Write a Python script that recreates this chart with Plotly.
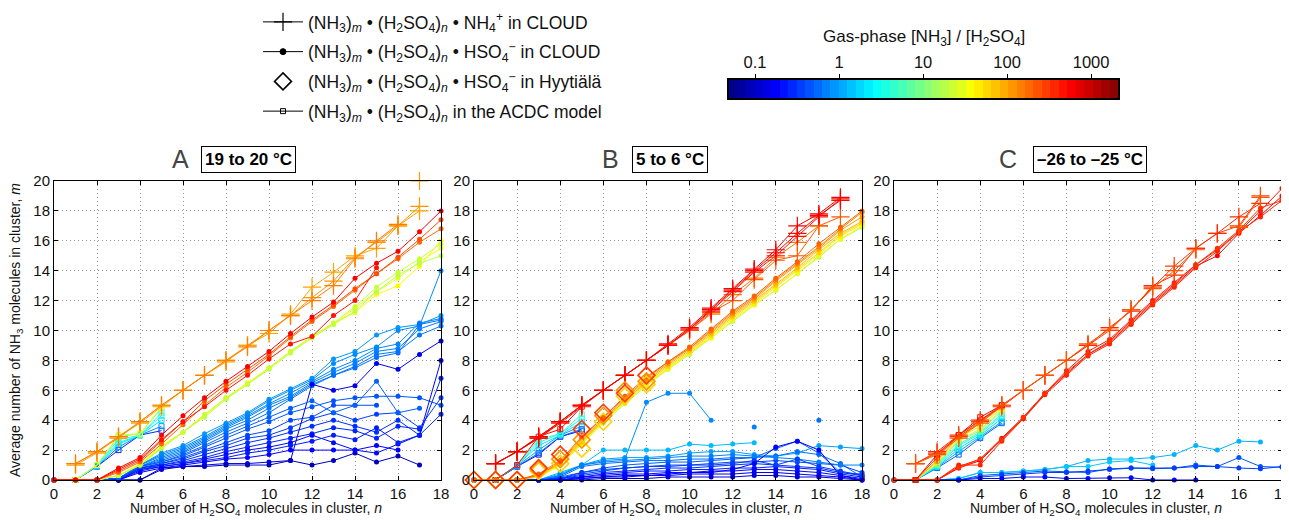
import math
import numpy as np
import plotly.graph_objects as go

# ---------------- data ----------------
N_FULL = list(range(19))
N_PLUS = list(range(1, 18))
N_MODEL = [1, 2, 3, 4, 5]
N_HYY = list(range(9))

# colour scale (gas-phase NH3/H2SO4 ratio)
CBAR_LOG_MIN, CBAR_LOG_MAX = -1.31, 3.32
CBAR_TICK_VALUES = [0.1, 1, 10, 100, 1000]
CBAR_TICK_LABELS = ["0.1", "1", "10", "100", "1000"]

# ---- Panel A: 19 to 20 C ----
A_NH4_RATIO = [120, 100, 150]
A_NH4_M = [
    [1.1, 1.9, 2.8, 3.9, 5.0, 6.0, 7.0, 8.0, 9.0, 10.0, 11.0, 12.2, 13.3, 14.9, 15.9, 17.0, 18.3],
    [1.0, 1.8, 2.9, 3.8, 4.9, 6.0, 7.0, 7.9, 9.0, 9.8, 11.1, 12.9, 13.9, 15.0, 15.5, 17.0, 18.0],
    [1.1, 1.9, 2.9, 3.9, 5.0, 6.0, 7.0, 8.0, 8.9, 10.0, 11.0, 12.0, 13.0, 14.8, 16.0, 17.1, None],
]
A_NH4_EXTRA_N = [17]
A_NH4_EXTRA_M = [20.0]
A_NH4_EXTRA_RATIO = 110

A_HSO4_RATIO = [560, 450, 250, 180, 22, 18, 40, 30]
A_HSO4_M = [
    [0, 0, 0, 0.8, 1.5, 3.0, 4.3, 5.5, 6.6, 7.6, 8.6, 9.8, 10.9, 11.9, 13.5, 14.5, 15.3, 16.6, 18.0],
    [0, 0, 0, 0.7, 1.4, 2.7, 3.9, 4.9, 6.0, 7.0, 8.1, 9.1, 9.6, 11.0, 12.0, 14.2, None, None, None],
    [0, 0, 0, 0.6, 1.3, 2.6, 3.9, 5.3, 6.4, 7.4, 8.4, 9.6, 10.7, 11.7, 12.8, 13.8, 14.9, 16.1, 17.4],
    [0, 0, 0, 0.5, 1.2, 2.4, 3.7, 5.0, 6.2, 7.2, 8.3, 9.5, 10.6, 11.6, 12.7, 13.8, 14.8, 15.9, 16.8],
    [0, 0, 0, 0.3, 1.0, 2.2, 3.2, 4.4, 5.5, 6.4, 7.5, 8.6, 9.6, 10.5, 11.6, 12.9, 13.9, 14.8, 15.8],
    [0, 0, 0, 0.3, 1.0, 2.1, 3.2, 4.2, 5.4, 6.4, 7.4, 8.5, 9.5, 10.4, 11.3, 12.6, 13.7, 14.5, 15.0],
    [0, 0, 0, 0.3, 1.1, 2.3, 3.2, 4.3, 5.5, 6.5, 7.5, 8.6, 9.6, 10.5, 11.2, 12.4, 13.0, 14.3, 16.0],
    [0, 0, 0, 0.3, 1.0, 2.2, 3.2, 4.3, 5.5, 6.4, 7.5, 8.6, 9.6, 10.4, 11.5, 12.6, 13.5, 14.6, 15.5],
]

A_BLUE_RATIO = [0.9, 0.8, 0.75, 0.7, 0.65, 0.6, 0.45, 0.4, 0.35, 0.3, 0.27, 0.2, 0.15, 0.09, 0.25, 0.18, 0.5]
A_BLUE_M = [
    [0, 0, 0, 0.1, 1.0, 1.8, 2.3, 3.1, 3.8, 4.5, 5.4, 6.1, 6.8, 8.1, 8.6, 9.7, 10.2, 10.4, 11.0],
    [0, 0, 0, 0.1, 1.0, 1.7, 2.2, 2.9, 3.7, 4.4, 5.3, 6.0, 6.7, 7.8, 8.4, 8.9, 10.0, 10.3, 14.0],
    [0, 0, 0, 0.1, 1.0, 1.6, 2.1, 2.8, 3.6, 4.3, 5.1, 5.8, 6.6, 7.4, 8.0, 8.8, 9.1, 10.5, 10.8],
    [0, 0, 0, 0.1, 0.9, 1.5, 2.0, 2.7, 3.5, 4.2, 5.0, 5.6, 6.5, 7.2, 7.8, 8.6, 8.8, 10.1, 10.6],
    [0, 0, 0, 0.1, 0.9, 1.4, 1.9, 2.6, 3.4, 4.0, 4.8, 5.5, 6.4, 7.0, 7.6, 8.4, 8.6, 9.7, 10.3],
    [0, 0, 0, 0.1, 0.9, 1.3, 1.8, 2.5, 3.2, 3.8, 4.5, 5.4, 6.3, 7.0, 7.5, 8.2, 8.5, 10.4, 10.7],
    [0, 0, 0, 0.1, 0.9, 1.2, 1.6, 2.2, 2.8, 3.4, 3.9, 4.5, 4.9, 5.3, 5.5, 5.6, 5.6, 5.5, 5.0],
    [0, 0, 0, 0.1, 0.8, 1.1, 1.5, 2.0, 2.5, 3.0, 3.3, 4.0, 4.2, 5.0, 5.0, 5.0, None, None, None],
    [0, 0, 0, 0.1, 0.8, 1.1, 1.4, 1.9, 2.3, 2.8, 3.0, 3.5, 4.1, 4.5, 4.0, 4.4, 4.5, 3.5, 5.5],
    [0, 0, 0, 0.0, 0.8, 1.0, 1.3, 1.7, 2.1, 2.5, 2.8, 3.2, 3.6, 4.0, 3.6, 3.2, 4.0, 3.0, 4.4],
    [0, 0, 0, 0.0, 0.7, 1.0, 1.2, 1.5, 1.9, 2.2, 2.5, 2.8, 3.1, 3.5, 3.3, 2.8, 3.6, 3.4, None],
    [0, 0, 0, 0.0, 0.6, 0.9, 1.1, 1.4, 1.7, 2.0, 2.2, 2.5, 3.0, 2.5, 2.0, 1.8, 2.4, 3.0, 8.0],
    [0, 0, 0, 0.0, 0.0, 0.8, 0.9, 1.0, 1.1, 1.1, 1.2, 1.3, 6.4, 6.0, 6.3, 7.8, 7.4, 8.4, 9.3],
    [0, 0, 0, 0.0, 0.0, 0.7, 0.9, 0.9, 1.0, 1.0, 1.0, 1.3, 1.0, 1.3, 1.8, 1.2, 1.6, 1.0, None],
    [0, 0, 0, 0.0, 0.7, 0.9, 1.1, 1.3, 1.5, 1.8, 2.0, 2.3, 2.6, 3.0, 2.7, 3.5, 2.5, 3.0, 6.8],
    [0, 0, 0, 0.0, 0.5, 0.8, 1.0, 1.2, 1.4, 1.5, 1.7, 2.0, 2.0, 2.0, 2.0, 2.3, 2.0, None, None],
    [0, 0, 0, 0.1, 0.9, 1.2, 1.7, 2.3, 3.0, 3.6, 4.2, 4.8, 5.3, 4.5, 5.0, 6.6, 4.5, 4.8, None],
]

A_MODEL_RATIO = [0.3, 0.8, 2, 3, 5, 10, 30]
A_MODEL_M = [
    [0, 0.9, 2.0, 3.0, 3.3],
    [0, 0.9, 2.2, 3.0, 3.6],
    [0, 0.95, 2.4, 3.0, 4.0],
    [0, 1.0, 2.5, 3.0, 4.3],
    [0, 1.0, 2.7, 3.0, 4.5],
    [0, 1.0, 2.9, 3.1, 4.8],
    [0, 1.0, 3.0, 3.1, 4.9],
]

# ---- Panel B: 5 to 6 C ----
B_NH4_RATIO = [600, 520, 450, 220, 160]
B_NH4_M = [
    [1.1, 1.9, 2.9, 3.9, 5.0, 6.0, 7.0, 8.0, 9.1, 10.2, 11.5, 12.8, 14.1, 15.4, 17.0, 17.8, 18.9],
    [1.1, 1.9, 2.8, 3.8, 4.9, 6.0, 7.0, 8.0, 9.0, 10.1, 11.4, 12.7, 14.0, 15.2, 16.5, 17.7, 18.7],
    [1.1, 1.9, 2.8, 3.9, 5.0, 6.0, 7.0, 8.0, 9.0, 10.1, 11.3, 12.6, 13.9, 15.0, 16.3, 17.6, 18.8],
    [1.1, 1.9, 2.9, 3.9, 5.0, 6.0, 7.0, 8.0, 9.0, 10.0, 11.2, 12.0, 13.4, 14.7, 15.0, 17.0, 17.6],
    [1.1, 1.9, 2.9, 3.9, 5.0, 6.0, 7.0, 8.0, 9.0, 10.0, 11.1, 12.4, 13.5, 14.9, 15.9, 17.0, None],
]

B_HSO4_RATIO = [200, 150, 110, 80, 60, 45, 30, 18]
B_HSO4_M = [
    [0, 0, 0, 0.4, 1.3, 2.9, 4.2, 5.6, 6.9, 7.9, 8.9, 10.1, 11.3, 12.3, 13.5, 14.6, 15.8, 16.9, 18.0],
    [0, 0, 0, 0.3, 1.2, 2.8, 4.2, 5.5, 6.8, 7.9, 8.8, 10.0, 11.2, 12.2, 13.4, 14.5, 15.6, 16.8, 17.9],
    [0, 0, 0, 0.3, 1.2, 2.7, 4.1, 5.4, 6.7, 7.8, 8.8, 9.9, 11.1, 12.1, 13.3, 14.4, 15.5, 16.7, 17.6],
    [0, 0, 0, 0.3, 1.1, 2.6, 4.0, 5.3, 6.6, 7.7, 8.7, 9.8, 11.0, 12.0, 13.1, 14.2, 15.4, 16.5, 17.3],
    [0, 0, 0, 0.3, 1.1, 2.5, 4.0, 5.3, 6.5, 7.6, 8.6, 9.7, 10.9, 11.9, 13.0, 14.1, 15.2, 16.4, 17.2],
    [0, 0, 0, 0.2, 1.0, 2.5, 3.9, 5.2, 6.4, 7.5, 8.5, 9.6, 10.8, 11.8, 12.9, 14.0, 15.1, 16.3, 17.1],
    [0, 0, 0, 0.2, 1.0, 2.4, 3.9, 5.2, 6.4, 7.4, 8.5, 9.5, 10.7, 11.7, 12.7, 13.8, 15.0, 16.1, 17.0],
    [0, 0, 0, 0.2, 1.0, 2.4, 3.8, 5.1, 6.3, 7.4, 8.4, 9.5, 10.6, 11.7, 12.7, 13.8, 14.9, 16.1, 16.9],
]

B_HYY_RATIO = [300, 120, 60]
B_HYY_M = [
    [0, 0, 0, 0.8, 1.7, 3.4, 4.5, 5.8, 7.0],
    [0, 0, 0, 0.7, 1.4, 2.7, 4.3, 6.0, 6.6],
    [0, 0, 0, 0.6, 1.1, 2.1, 3.9, 5.6, 6.4],
]

B_BLUE_RATIO = [1.3, 1.0, 0.8, 0.6, 0.5, 0.4, 0.3, 0.25, 0.2, 0.15, 0.12, 0.7, 0.35, 0.18]
B_BLUE_M = [
    [0, 0, 0, 0, 0.5, 1.0, 2.0, 2.0, 2.0, 2.0, 2.4, 2.3, 2.4, 2.5, None, None, None, None, None],
    [0, 0, 0, 0, 0.4, 1.0, 1.4, 1.5, 1.5, 1.6, 1.8, 1.9, 1.9, 1.7, 1.6, 1.8, 2.3, 2.2, 2.1],
    [0, 0, 0, 0, 0.3, 1.0, 1.3, 1.4, 5.2, 5.8, 5.8, 4.0, None, None, None, None, None, None, None],
    [0, 0, 0, 0, 0.2, 0.9, 1.1, 1.2, 1.3, 1.3, 1.4, 1.4, 1.5, 1.5, 1.6, 1.9, 1.7, 1.1, 0.2],
    [0, 0, 0, 0, 0.2, 0.5, 0.8, 1.0, 1.1, 1.2, 1.2, 1.3, 1.4, 1.5, 2.1, 2.6, 1.8, 0.5, 0.4],
    [0, 0, 0, 0, 0.1, 0.4, 0.6, 0.8, 0.9, 1.0, 1.0, 1.1, 1.2, 1.2, 1.3, 1.2, 1.1, 1.0, 0.5],
    [0, 0, 0, 0, 0.1, 0.3, 0.5, 0.6, 0.7, 0.8, 0.8, 0.9, 1.0, 1.1, 1.0, 0.9, 0.8, 0.5, 0.3],
    [0, 0, 0, 0, 0.1, 0.2, 0.4, 0.5, 0.6, 0.6, 0.7, 0.7, 0.8, 0.8, 0.9, 0.8, 0.7, 0.4, 0.2],
    [0, 0, 0, 0, 0.0, 0.2, 0.3, 0.4, 0.4, 0.5, 0.5, 0.6, 0.6, 0.7, 0.7, 0.6, 0.5, 0.3, 0.1],
    [0, 0, 0, 0, 0.0, 0.1, 0.2, 0.2, 0.3, 0.3, 0.4, 0.4, 0.4, 0.5, 0.5, 0.4, 0.3, 0.2, 0.0],
    [0, 0, 0, 0, 0.0, 0.0, 0.1, 0.1, 0.1, 0.2, 0.2, 0.2, 0.2, 0.3, 0.3, 0.2, 0.2, 0.1, 0.0],
    [0, 0, 0, 0, 0.3, 1.0, 1.2, 1.3, 1.4, 1.5, 1.6, 1.6, 1.7, 1.6, 1.5, 1.4, 1.2, 1.0, 1.0],
    [0, 0, 0, 0, 0.1, 0.5, 0.7, 0.8, 0.9, 0.9, 1.0, 1.0, 1.1, 1.3, 1.0, 1.4, 0.9, 0.6, 0.3],
    [0, 0, 0, 0, 0.0, 0.1, 0.2, 0.3, 0.3, 0.4, 0.5, 0.5, 0.7, 1.1, 2.2, 2.6, 2.0, 0.3, 0.0],
]
B_ISO_N = [13, 16]
B_ISO_M = [3.55, 4.0]
B_ISO_RATIO = [0.7, 0.6]

B_MODEL_RATIO = [0.2, 0.5, 1, 2, 3, 5, 500]
B_MODEL_M = [
    [0, 0.9, 1.7, 2.9, 3.3],
    [0, 0.9, 1.8, 2.9, 3.4],
    [0, 0.95, 2.0, 3.0, 3.6],
    [0, 1.0, 2.3, 3.0, 3.9],
    [0, 1.0, 2.5, 3.1, 4.1],
    [0, 1.0, 2.7, 3.1, 4.4],
    [0, 1.0, 2.9, 3.4, 4.9],
]

# ---- Panel C: -26 to -25 C ----
C_NH4_RATIO = [280, 350, 230]
C_NH4_M = [
    [1.1, 1.8, 2.9, 3.9, 5.0, 6.0, 7.0, 8.0, 9.0, 10.0, 11.4, 12.9, 14.3, 15.5, 16.5, 17.0, 19.0],
    [1.1, 1.9, 3.0, 4.0, 4.9, 6.0, 7.0, 8.0, 9.0, 10.2, 11.3, 13.0, 13.7, 15.5, 16.5, 17.6, 18.5],
    [1.1, 1.7, 2.8, 3.8, 5.0, 6.0, 7.0, 8.0, 9.1, 10.1, 11.4, 12.8, 14.0, 15.4, None, 16.9, 18.9],
]
C_HSO4_RATIO = [450, 550, 380, 330]
C_HSO4_M = [
    [0, 0, 0, 0.9, 1.4, 2.8, 4.2, 5.8, 7.3, 8.6, 9.4, 10.7, 12.0, 13.2, 14.4, 15.4, 16.6, 18.0, 19.5],
    [0, 0, 0, 0.8, 1.3, 2.7, 4.1, 5.8, 7.1, 8.4, 9.2, 10.5, 11.8, 13.0, 14.3, 15.0, 16.5, 17.7, 19.0],
    [0, 0, 0, 1.0, 1.0, 2.6, 4.1, 5.7, 7.0, 8.3, 9.1, 10.4, 11.7, 12.9, 14.2, 15.3, 16.6, 17.6, 18.7],
    [0, 0, 0, 0.8, 1.4, 2.7, 4.2, 5.8, 7.2, 8.4, 9.3, 10.6, 11.9, 13.1, 14.4, 15.5, 16.7, 18.2, 18.7],
]
C_MODEL_RATIO = [0.5, 1, 2, 3, 5, 10, 20, 50, 100, 300, 600]
C_MODEL_M = [
    [0, 0.8, 1.7, 2.8, 3.8],
    [0, 0.85, 1.9, 2.9, 3.9],
    [0, 0.9, 2.1, 3.0, 4.1],
    [0, 0.95, 2.3, 3.1, 4.3],
    [0, 1.0, 2.4, 3.2, 4.4],
    [0, 1.05, 2.6, 3.3, 4.6],
    [0, 1.1, 2.7, 3.4, 4.7],
    [0, 1.2, 2.8, 3.6, 4.8],
    [0, 1.3, 2.9, 3.8, 4.9],
    [0, 1.5, 3.0, 4.0, 5.0],
    [0, 1.7, 3.0, 4.2, 5.0],
]
C_BLUE_RATIO = [1.2, 1.5, 0.45, 0.35, 0.2]
C_BLUE_M = [
    [0, 0, 0, 0.1, 0.5, 0.5, 0.6, 0.7, 0.9, 1.3, 1.4, 1.4, 1.5, 1.7, 2.3, 2.0, 2.6, 2.55, None],
    [0, 0, 0, 0.1, 0.5, 0.5, 0.6, 0.7, 0.9, 0.9, 1.2, 1.3, 1.0, None, None, None, None, None, None],
    [0, 0, 0, 0.0, 0.3, 0.4, 0.5, 0.6, 0.55, 0.5, 0.75, 0.8, 0.75, 0.8, 1.0, 0.9, 1.5, 0.9, 0.85],
    [0, 0, 0, 0.0, 0.2, 0.3, 0.4, 0.5, 0.5, 0.6, 0.7, 0.8, 0.8, 0.8, 0.9, 0.9, 0.8, 0.75, 0.9],
    [0, 0, 0, 0.0, 0.1, 0.1, 0.2, 0.2, 0.1, 0.1, 0.15, 0.15, 0.0, 0.0, 0.0, None, None, None, None],
]

PANEL_LETTERS = ["A", "B", "C"]
PANEL_TEMPS = ["19 to 20 °C", "5 to 6 °C", "–26 to –25 °C"]
X_TITLE = "Number of H<sub>2</sub>SO<sub>4</sub> molecules in cluster, <i>n</i>"
Y_TITLE = "Average number of NH<sub>3</sub> molecules in cluster, <i>m</i>"
CBAR_TITLE = "Gas-phase [NH<sub>3</sub>] / [H<sub>2</sub>SO<sub>4</sub>]"

LEGEND_LABELS = [
    "(NH<sub>3</sub>)<sub><i>m</i></sub> • (H<sub>2</sub>SO<sub>4</sub>)<sub><i>n</i></sub> • NH<sub>4</sub><sup>+</sup> in CLOUD",
    "(NH<sub>3</sub>)<sub><i>m</i></sub> • (H<sub>2</sub>SO<sub>4</sub>)<sub><i>n</i></sub> • HSO<sub>4</sub><sup>−</sup> in CLOUD",
    "(NH<sub>3</sub>)<sub><i>m</i></sub> • (H<sub>2</sub>SO<sub>4</sub>)<sub><i>n</i></sub> • HSO<sub>4</sub><sup>−</sup> in Hyytiälä",
    "(NH<sub>3</sub>)<sub><i>m</i></sub> • (H<sub>2</sub>SO<sub>4</sub>)<sub><i>n</i></sub> in the ACDC model",
]

# ---------------- helpers ----------------
def _clip(v):
    return max(0.0, min(1.0, v))


def jet(f):
    f = _clip(f)
    r = _clip(1.5 - abs(4 * f - 3))
    g = _clip(1.5 - abs(4 * f - 2))
    b = _clip(1.5 - abs(4 * f - 1))
    return "rgb(%d,%d,%d)" % (round(r * 255), round(g * 255), round(b * 255))


def ratio_color(ratio):
    f = (math.log10(ratio) - CBAR_LOG_MIN) / (CBAR_LOG_MAX - CBAR_LOG_MIN)
    return jet(f)


STYLES = {
    "plus": dict(symbol="cross-thin", size=13, lw=1.2),
    "dot": dict(symbol="circle", size=5, lw=0),
    "square": dict(symbol="square-open", size=5, lw=1),
    "diamond": dict(symbol="diamond-open", size=13, lw=1.6),
}

fig = go.Figure()


def add_series(panel, n, m, ratio, kind, mode="lines+markers"):
    c = ratio_color(ratio)
    st = STYLES[kind]
    ax = "" if panel == 1 else str(panel)
    marker = dict(symbol=st["symbol"], size=st["size"], color=c,
                  line=dict(color=c, width=st["lw"]))
    fig.add_trace(go.Scatter(
        x=n, y=m, mode=mode, xaxis="x" + ax, yaxis="y" + ax,
        line=dict(color=c, width=1), marker=marker, showlegend=False,
        cliponaxis=False, hoverinfo="skip"))


# panel A
for r, m in zip(A_BLUE_RATIO, A_BLUE_M):
    add_series(1, N_FULL, m, r, "dot")
for r, m in zip(A_MODEL_RATIO, A_MODEL_M):
    add_series(1, N_MODEL, m, r, "square")
for r, m in zip(A_HSO4_RATIO[::-1], A_HSO4_M[::-1]):
    add_series(1, N_FULL, m, r, "dot")
for r, m in zip(A_NH4_RATIO, A_NH4_M):
    add_series(1, N_PLUS, m, r, "plus")
add_series(1, A_NH4_EXTRA_N, A_NH4_EXTRA_M, A_NH4_EXTRA_RATIO, "plus", mode="markers")

# panel B
for r, m in zip(B_BLUE_RATIO, B_BLUE_M):
    add_series(2, N_FULL, m, r, "dot")
for n_, m_, r in zip(B_ISO_N, B_ISO_M, B_ISO_RATIO):
    add_series(2, [n_], [m_], r, "dot", mode="markers")
for r, m in zip(B_MODEL_RATIO, B_MODEL_M):
    add_series(2, N_MODEL, m, r, "square")
for r, m in zip(B_HSO4_RATIO[::-1], B_HSO4_M[::-1]):
    add_series(2, N_FULL, m, r, "dot")
for r, m in zip(B_NH4_RATIO[::-1], B_NH4_M[::-1]):
    add_series(2, N_PLUS, m, r, "plus")
for r, m in zip(B_HYY_RATIO[::-1], B_HYY_M[::-1]):
    add_series(2, N_HYY, m, r, "diamond", mode="markers")

# panel C
for r, m in zip(C_BLUE_RATIO, C_BLUE_M):
    add_series(3, N_FULL, m, r, "dot")
for r, m in zip(C_MODEL_RATIO, C_MODEL_M):
    add_series(3, N_MODEL, m, r, "square")
for r, m in zip(C_HSO4_RATIO, C_HSO4_M):
    add_series(3, N_FULL, m, r, "dot")
for r, m in zip(C_NH4_RATIO, C_NH4_M):
    add_series(3, N_PLUS, m, r, "plus")

# legend entries
legend_kinds = ["plus", "dot", "diamond", "square"]
legend_modes = ["lines+markers", "lines+markers", "markers", "lines+markers"]
for i, (lab, kind, mode) in enumerate(zip(LEGEND_LABELS, legend_kinds, legend_modes)):
    st = STYLES[kind]
    fig.add_trace(go.Scatter(
        x=[None], y=[None], mode=mode, name=lab, legendgroup="g%d" % i,
        line=dict(color="black", width=1),
        marker=dict(symbol=st["symbol"], size=st["size"] if kind != "dot" else 6,
                    color="black", line=dict(color="black", width=max(st["lw"], 1))),
        showlegend=True))

# colour bar as heatmap
edges = np.linspace(CBAR_LOG_MIN, CBAR_LOG_MAX, 47)
centers = (edges[:-1] + edges[1:]) / 2
jet_scale = [[k / 8, jet(k / 8)] for k in range(9)]
fig.add_trace(go.Heatmap(
    x=edges, y=[0, 1], z=[centers], colorscale=jet_scale,
    zmin=CBAR_LOG_MIN, zmax=CBAR_LOG_MAX, showscale=False,
    xaxis="x4", yaxis="y4", hoverinfo="skip"))

# ---------------- layout ----------------
# the page body has an 8px margin: offset all placements by it
OFF = 8
EXTRA_R = 4  # lets the last tick label reach the window edge
W, H = 1289 - OFF + EXTRA_R, 520 - OFF
ML, MR, MT, MB = 46, 7 + EXTRA_R, 5, 40
PW, PH = W - ML - MR, H - MT - MB


def px_x(p):  # reference-image x pixel -> paper fraction
    return (p - OFF - ML) / PW


def px_y(p):  # reference-image y pixel -> paper fraction
    return (H - MB - (p - OFF)) / PH


FONT = "Liberation Sans, Arial, Helvetica, sans-serif"
grid_top = px_y(181)
axis_common = dict(showline=True, linecolor="black", linewidth=1, mirror="ticks",
                   ticks="inside", ticklen=4, tickcolor="black", automargin=False,
                   ticklabeloverflow="allow",
                   showgrid=True, gridcolor="#9a9a9a", griddash="1px,3px", gridwidth=1,
                   zeroline=False, tickfont=dict(size=15, color="#111"))
domains = [(px_x(54), px_x(441)), (px_x(474), px_x(862)), (px_x(894), px_x(1282))]
layout_axes = {}
for i, d in enumerate(domains):
    sfx = "" if i == 0 else str(i + 1)
    layout_axes["xaxis" + sfx] = dict(axis_common, domain=list(d), range=[0, 18], dtick=2,
                                      anchor="y" + sfx)
    layout_axes["yaxis" + sfx] = dict(axis_common, domain=[0, grid_top], range=[0, 20],
                                      dtick=2, anchor="x" + sfx)

layout_axes["xaxis4"] = dict(domain=[px_x(729), px_x(1118)], range=[CBAR_LOG_MIN, CBAR_LOG_MAX],
                             side="top", anchor="y4", showgrid=False, zeroline=False,
                             automargin=False, ticklabeloverflow="allow",
                             tickvals=[math.log10(v) for v in CBAR_TICK_VALUES],
                             ticktext=CBAR_TICK_LABELS, ticks="outside", ticklen=4,
                             tickcolor="black", showline=True, linecolor="black", mirror=True,
                             linewidth=1.5, tickfont=dict(size=16.5, color="#111"))
layout_axes["yaxis4"] = dict(domain=[px_y(98), px_y(80)], range=[0, 1], anchor="x4",
                             automargin=False,
                             showticklabels=False, ticks="", showgrid=False, zeroline=False,
                             showline=True, linecolor="black", mirror=True, linewidth=1.5)

annotations = []
letter_x = [180, 610, 1008]
box_x = [248.5, 670.5, 1089.5]
xtitle_x = [255.5, 676, 1096]
for L, T, lx, bx, tx in zip(PANEL_LETTERS, PANEL_TEMPS, letter_x, box_x, xtitle_x):
    annotations.append(dict(text=L, x=px_x(lx), y=px_y(159), xref="paper", yref="paper",
                            xanchor="center", yanchor="middle",
                            showarrow=False, font=dict(size=25, color="#444")))
    annotations.append(dict(text="<b>%s</b>" % T, x=px_x(bx), y=px_y(159), xref="paper",
                            yref="paper", xanchor="center", yanchor="middle",
                            showarrow=False, font=dict(size=17, color="black"),
                            bordercolor="black", borderwidth=1, borderpad=3, bgcolor="white"))
    annotations.append(dict(text=X_TITLE, x=px_x(tx), y=px_y(509), xref="paper", yref="paper",
                            xanchor="center", yanchor="middle", showarrow=False,
                            font=dict(size=14, color="#111")))
annotations.append(dict(text=Y_TITLE, x=px_x(16), y=px_y(330), xref="paper", yref="paper",
                        xanchor="center", yanchor="middle", textangle=-90, showarrow=False,
                        font=dict(size=14, color="#111")))
annotations.append(dict(text=CBAR_TITLE, x=px_x(924), y=px_y(38), xref="paper", yref="paper",
                        showarrow=False, xanchor="center", yanchor="middle",
                        font=dict(size=17, color="#111")))

fig.update_layout(
    width=W, height=H, margin=dict(l=ML, r=MR, t=MT, b=MB, autoexpand=False),
    plot_bgcolor="white", paper_bgcolor="white",
    font=dict(family=FONT, size=14, color="#111"),
    showlegend=True,
    legend=dict(x=px_x(258), y=px_y(4), xanchor="left", yanchor="top",
                font=dict(size=17.5, color="#111"), itemwidth=40, tracegroupgap=4,
                bgcolor="rgba(0,0,0,0)"),
    annotations=annotations,
    **layout_axes,
)

fig.write_html("out.html")
